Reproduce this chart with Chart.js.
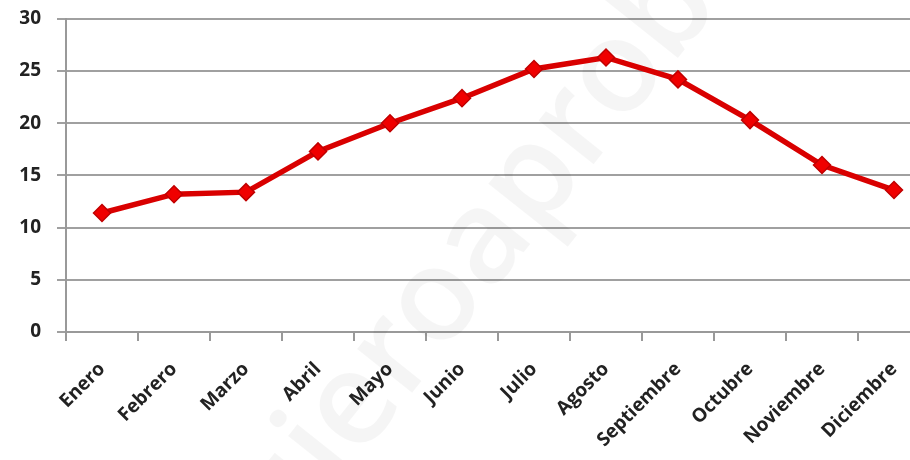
<!DOCTYPE html>
<html>
<head>
<meta charset="utf-8">
<script src="https://cdn.jsdelivr.net/npm/chart.js@4/dist/chart.umd.min.js"></script>
<style>
  html, body { margin: 0; padding: 0; background: #fff; overflow: hidden; }
  #wrap { width: 940px; height: 460px; }
</style>
</head>
<body>
<div id="wrap"><canvas id="chart" width="940" height="460"></canvas></div>
<script>
const months = ["Enero", "Febrero", "Marzo", "Abril", "Mayo", "Junio", "Julio",
  "Agosto", "Septiembre", "Octubre", "Noviembre", "Diciembre"];
const temps = [11.4, 13.2, 13.4, 17.3, 20.0, 22.4, 25.2, 26.3, 24.2, 20.3, 16.0, 13.6];
const yTicks = [0, 5, 10, 15, 20, 25, 30];

const labelFont = { family: "'Open Sans', sans-serif", size: 19, weight: "bold" };
// small lineHeight so the y labels don't push the plot area down
const yFont = { ...labelFont, lineHeight: 0.3 };

// faint diagonal watermark behind the data
const watermark = {
  id: "watermark",
  beforeDatasetsDraw(chart) {
    const { ctx } = chart;
    ctx.save();
    ctx.translate(490, 235);
    ctx.rotate(-0.9);
    ctx.font = "600 130px 'Open Sans', sans-serif";
    ctx.fillStyle = "rgba(0,0,0,0.04)";
    ctx.textAlign = "center";
    ctx.textBaseline = "middle";
    ctx.fillText("quieroaprobar", 0, 0);
    ctx.restore();
  },
};

new Chart(document.getElementById("chart"), {
  type: "line",
  data: {
    labels: months,
    datasets: [{
      data: temps,
      borderColor: "#d90000",
      borderWidth: 5.5,
      pointStyle: "rectRot",
      pointRadius: 8.5,
      pointBackgroundColor: "#f00000",
      pointBorderColor: "#c00000",
      pointBorderWidth: 1.5,
      tension: 0,
    }],
  },
  options: {
    responsive: false,
    animation: false,
    layout: { padding: { top: 0, left: 0, right: 0, bottom: 0 } },
    plugins: {
      legend: { display: false },
      tooltip: { enabled: false },
    },
    scales: {
      x: {
        offset: true,
        afterFit: (axis) => { axis.height = 128; },
        grid: { offset: true, drawOnChartArea: false, drawTicks: true, tickLength: 9, color: "#999", lineWidth: 2 },
        border: { color: "#999", width: 2 },
        ticks: { color: "#222", font: labelFont, minRotation: 45, maxRotation: 45, padding: 17, autoSkip: false },
      },
      y: {
        min: 0,
        max: 30,
        afterFit: (axis) => { axis.width = 66; },
        afterBuildTicks: (axis) => { axis.ticks = yTicks.map((v) => ({ value: v })); },
        grid: { color: "#a0a0a0", lineWidth: 2, tickLength: 9 },
        border: { color: "#999", width: 2 },
        ticks: { color: "#222", font: yFont, padding: 16 },
      },
    },
  },
  plugins: [watermark],
});
</script>
</body>
</html>
